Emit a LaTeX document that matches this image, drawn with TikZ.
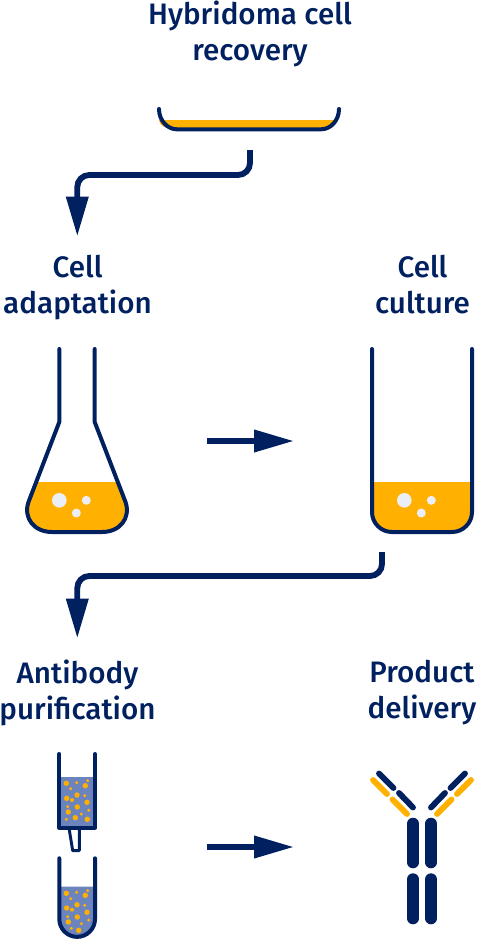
\documentclass[tikz,border=0pt]{standalone}
\usepackage{fontspec}
\setmainfont{Fira Sans}[BoldFont={Fira Sans Medium}]
\usetikzlibrary{arrows.meta, positioning}
\definecolor{navy}{HTML}{002060}
\definecolor{amber}{HTML}{FFB000}
\definecolor{resin}{HTML}{6B84BE}
\definecolor{bubble}{HTML}{ECEEF5}
\begin{document}
\begin{tikzpicture}[
  x=0.75pt, y=-0.75pt,
  label/.style={font=\fontsize{22.2}{27}\selectfont\bfseries, text=navy, align=center, inner sep=0pt, anchor=north},
  glass/.style={draw=navy, line width=3pt, line cap=round, line join=round},
  liquid/.style={fill=amber},
  gas/.style={fill=bubble},
  arr/.style={draw=navy, line width=4.4pt, rounded corners=9pt, -{Triangle[length=30pt, width=16pt]}},
  heavy/.style={draw=navy, line width=9pt, line cap=round},
  fabn/.style={draw=navy, line width=4.4pt, line cap=round},
  fabo/.style={draw=amber, line width=4.4pt, line cap=round},
  dot/.style={fill=amber},
]
\useasboundingbox (0,0) rectangle (478,940);

% Labels
\node[label] (recovery) at (250,1) {Hybridoma cell\\recovery};
\node[label] (adaptation) at (77.5,255) {Cell\\adaptation};
\node[label] (culture) at (422.5,255) {Cell\\culture};
\node[label] (purification) at (77.5,659.5) {Antibody\\purification};
\node[label] (delivery) at (422,659.5) {Product\\delivery};

% Dish
\fill[liquid] (161,120) -- (337,120) arc (0:90:17 and 9.3) -- (176,129.3) arc (90:180:17 and 9.3) -- cycle;
\draw[glass] (159,109) arc (180:90:18 and 20.3) -- (321,129.3) arc (90:0:18 and 20.3);
\coordinate (dishout) at (250,150);
\coordinate (adaptin) at (77.3,236.5);

% Flask
\fill[liquid] (38,482) -- (116,482) -- (125.5,506) .. controls (129,518) and (120,531) .. (103,531) -- (51,531) .. controls (34,531) and (25,518) .. (28.5,506) -- cycle;
\draw[glass] (59.3,349) -- (59.3,422) -- (28.5,502) .. controls (23,518) and (34,532) .. (52,532) -- (102,532) .. controls (120,532) and (131,518) .. (125.5,502) -- (94.7,422) -- (94.7,349);
\fill[gas] (59.3,500.3) circle (7.3);
\fill[gas] (86.3,500.3) circle (4.5);
\fill[gas] (76.3,513) circle (4.5);

% Culture vessel
\fill[liquid] (372,482) -- (472,482) -- (472,512) arc (0:90:20) -- (392,532) arc (90:180:20) -- cycle;
\draw[glass] (372,349) -- (372,512) arc (180:90:20) -- (452,532) arc (90:0:20) -- (472,349);
\fill[gas] (404.3,500.3) circle (7.3);
\fill[gas] (431.3,500.3) circle (4.5);
\fill[gas] (421.3,513) circle (4.5);
\coordinate (cultureout) at (382,552);
\coordinate (purifyin) at (77.3,638.5);

% Column
\fill[resin] (59.3,776.7) rectangle (95,827.7);
\draw[glass] (59.3,754) -- (59.3,827.7) -- (95,827.7) -- (95,754);
\draw[navy, line width=2.2pt, line join=round] (69,828) -- (72.7,850.7) -- (79.3,850.7) -- (79.3,828);
\foreach \dx/\dy/\dr in {66.3/783.3/2.7, 76.7/782.7/1.7, 87.7/780.7/1.7, 85.3/785.7/2.7, 70.7/788.7/1.7, 77/795/2.7, 84.7/795.7/1.7, 66.7/798.3/2.7, 72/800/2, 87/802.3/2.7, 67.7/806.7/1.7, 77.3/807/2.7, 68.3/812/2.7, 88.7/810.3/1.7, 81.3/814/1.7, 75.3/817.7/2.7, 66.3/819.3/1.7, 87.3/819.3/2.7}
  \fill[dot] (\dx,\dy) circle (\dr);

% Collection tube
\fill[resin] (59.3,886.7) -- (95,886.7) -- (95,919) arc (0:180:17.85) -- cycle;
\draw[glass] (59.3,858.3) -- (59.3,919) arc (180:0:17.85) -- (95,858.3);
\foreach \dx/\dy/\dr in {66.3/893.3/2.7, 76.7/892.3/1.7, 87.7/890.7/1.7, 85.3/895.3/2.7, 70.7/898.7/1.7, 77/904.7/2.7, 84.7/905.3/1.7, 66.7/908/2.7, 72/909.7/2, 87/912.3/2.7, 67.7/916.7/1.7, 77.3/917/2.7, 68.3/922/2.7, 88.7/920/1.7, 81.3/923.7/1.7, 71.3/928.3/1.7, 78.7/930.3/2.7}
  \fill[dot] (\dx,\dy) circle (\dr);

% Antibody
\draw[heavy] (413,823.7) -- (413,862.3);
\draw[heavy] (431,823.7) -- (431,862.3);
\draw[heavy] (413,879.3) -- (413,918.3);
\draw[heavy] (431,879.3) -- (431,918.3);
\draw[fabn] (379,773.5) -- (393.5,788);
\draw[fabn] (399,793) -- (413,807.5);
\draw[fabo] (373,780) -- (387,794);
\draw[fabo] (392.5,799.5) -- (407,814);
\draw[fabn] (465,773.5) -- (450.5,788);
\draw[fabn] (445,793) -- (431,807.5);
\draw[fabo] (471,780) -- (457,794);
\draw[fabo] (451.5,799.5) -- (437,814);

% Arrows
\coordinate (flaskright) at (207,441);
\coordinate (cultureleft) at (294,441);
\coordinate (tubesright) at (207,847);
\coordinate (antibodyleft) at (294,847);
\draw[arr] (dishout) -- (250,175) -- (77.3,175) -- (adaptin);
\draw[arr] (cultureout) -- (382,576) -- (77.3,576) -- (purifyin);
\draw[arr] (flaskright) -- (cultureleft);
\draw[arr] (tubesright) -- (antibodyleft);
\end{tikzpicture}
\end{document}
